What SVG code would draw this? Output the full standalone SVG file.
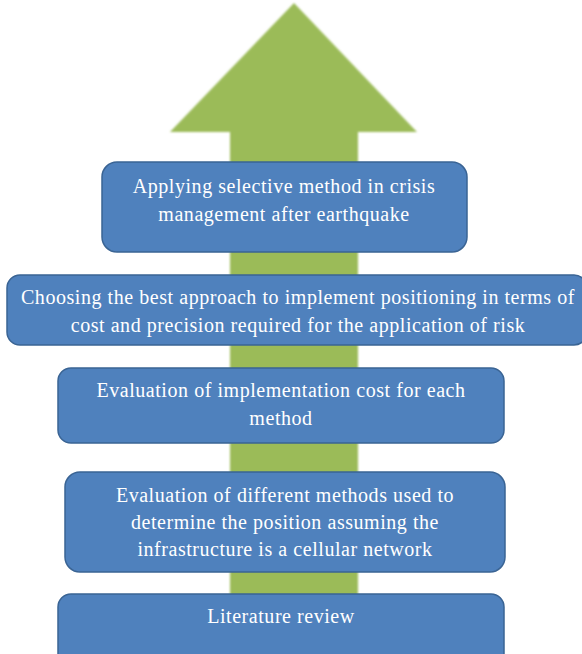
<svg xmlns="http://www.w3.org/2000/svg" width="582" height="654" viewBox="0 0 582 654">
<style>
.box{fill:#4F81BD;stroke:#3A6494;stroke-width:1.5}
.t{font-family:"Liberation Serif","Times New Roman",serif;font-size:20px;letter-spacing:0.55px;fill:#FFFFFF;text-anchor:middle}
</style>
<defs>
<filter id="soft" x="-5%" y="-5%" width="110%" height="110%"><feGaussianBlur stdDeviation="1"/></filter>
</defs>
<rect width="582" height="654" fill="#FFFFFF"/>
<g id="connectors">
<path d="M294 3 L417 132 L358 132 L358 654 L230 654 L230 132 L170 132 Z" fill="#9BBB59" filter="url(#soft)"/>
</g>
<g id="n1">
<rect class="box" x="102" y="162" width="365" height="90" rx="15"/>
<text class="t" x="284" y="193">Applying selective method in crisis</text>
<text class="t" x="284" y="221">management after earthquake</text>
</g>
<g id="n2">
<rect class="box" x="7" y="275" width="580" height="70" rx="13"/>
<text class="t" x="298" y="304">Choosing the best approach to implement positioning in terms of</text>
<text class="t" x="298" y="332">cost and precision required for the application of risk</text>
</g>
<g id="n3">
<rect class="box" x="58" y="368" width="446" height="75" rx="13"/>
<text class="t" x="281" y="397">Evaluation of implementation cost for each</text>
<text class="t" x="281" y="425">method</text>
</g>
<g id="n4">
<rect class="box" x="65" y="472" width="440" height="100" rx="15"/>
<text class="t" x="285" y="502">Evaluation of different methods used to</text>
<text class="t" x="285" y="529">determine the position assuming the</text>
<text class="t" x="285" y="556">infrastructure is a cellular network</text>
</g>
<g id="n5">
<rect class="box" x="58" y="594" width="446" height="80" rx="13"/>
<text class="t" x="281" y="623">Literature review</text>
</g>
</svg>
